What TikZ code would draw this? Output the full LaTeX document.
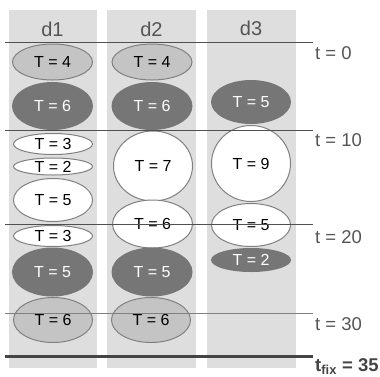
\documentclass[tikz,border=0pt]{standalone}
\usepackage{fontspec}
\setmainfont{Liberation Sans}
\usetikzlibrary{shapes.geometric}
\definecolor{colbg}{HTML}{DEDEDE}
\definecolor{lightel}{HTML}{C4C4C4}
\definecolor{darkel}{HTML}{767676}
\definecolor{elborder}{HTML}{808080}
\definecolor{linedark}{HTML}{505050}
\definecolor{labeltext}{HTML}{555555}
\definecolor{fixline}{HTML}{444444}
\tikzset{
  colrect/.style={fill=colbg, draw=none},
  task/.style={ellipse, inner sep=0pt, font=\fontsize{16}{18}\selectfont},
  lighttask/.style={task, fill=lightel, draw=elborder, line width=1pt, text=black},
  darktask/.style={task, fill=darkel, draw=none, text=white},
  whitetask/.style={task, fill=white, draw=elborder, line width=1pt, text=black},
  header/.style={font=\fontsize{20}{22}\selectfont, text=labeltext, anchor=base, inner sep=0pt},
  timeline/.style={draw=linedark, line width=1pt},
  timelabel/.style={font=\fontsize{18.5}{22}\selectfont, text=labeltext, anchor=base west, inner sep=0pt},
}
\begin{document}
\begin{tikzpicture}[x=1pt, y=-1pt]
\useasboundingbox (0,0) rectangle (380,376);
% columns
\fill[colrect] (9,10) rectangle (97,368);
\fill[colrect] (107,10) rectangle (196,368);
\fill[colrect] (207,10) rectangle (296,368);
% headers
\node[header] (h1) at (52.5,36) {d1};
\node[header] (h2) at (151.5,36) {d2};
\node[header] (h3) at (251,35.5) {d3};
% d1
\node[lighttask, minimum width=80pt, minimum height=36pt] (a1) at (52.5,62) {T = 4};
\node[darktask, minimum width=81pt, minimum height=48pt] (a2) at (52.5,106) {T = 6};
\node[whitetask, minimum width=79pt, minimum height=21pt] (a3) at (53,144) {T = 3};
\node[whitetask, minimum width=79pt, minimum height=17pt] (a4) at (53,166.5) {T = 2};
\node[whitetask, minimum width=79pt, minimum height=43pt] (a5) at (53,200) {T = 5};
\node[whitetask, minimum width=79pt, minimum height=21pt] (a6) at (53,236) {T = 3};
\node[darktask, minimum width=81pt, minimum height=49pt] (a7) at (52.5,272) {T = 5};
\node[lighttask, minimum width=79pt, minimum height=45pt] (a8) at (53,320) {T = 6};
% d2
\node[lighttask, minimum width=80pt, minimum height=36pt] (b1) at (152,62) {T = 4};
\node[darktask, minimum width=81pt, minimum height=48pt] (b2) at (152,106) {T = 6};
\node[whitetask, minimum width=79pt, minimum height=70pt] (b3) at (153,166) {T = 7};
\node[whitetask, minimum width=80pt, minimum height=48pt] (b4) at (152.5,224) {T = 6};
\node[darktask, minimum width=81pt, minimum height=49pt] (b5) at (152,272) {T = 5};
\node[lighttask, minimum width=79pt, minimum height=45pt] (b6) at (151,320) {T = 6};
% d3
\node[darktask, minimum width=80pt, minimum height=44pt] (c1) at (251,102) {T = 5};
\node[whitetask, minimum width=79pt, minimum height=76pt] (c2) at (251,163.5) {T = 9};
\node[whitetask, minimum width=79pt, minimum height=43pt] (c3) at (251,225) {T = 5};
\node[darktask, minimum width=80pt, minimum height=24pt] (c4) at (251,260) {T = 2};
% time lines
\coordinate (l0a) at (5,42.5);  \coordinate (l0b) at (313,42.5);
\coordinate (l1a) at (5,130);   \coordinate (l1b) at (313,130);
\coordinate (l2a) at (5,224.5); \coordinate (l2b) at (313,224.5);
\coordinate (l3a) at (5,313);   \coordinate (l3b) at (313,313);
\coordinate (l4a) at (5,356.5); \coordinate (l4b) at (313,356.5);
\draw[timeline] (l0a) -- (l0b);
\draw[timeline] (l1a) -- (l1b);
\draw[timeline] (l2a) -- (l2b);
\draw[timeline, draw=elborder] (l3a) -- (l3b);
\draw[draw=fixline, line width=3pt] (l4a) -- (l4b);
% labels
\node[timelabel] (t0) at (315,59) {t = 0};
\node[timelabel] (t1) at (315,146.5) {t = 10};
\node[timelabel] (t2) at (315,243) {t = 20};
\node[timelabel] (t3) at (315,330.5) {t = 30};
\node[timelabel, text=fixline, font=\fontsize{18.5}{22}\selectfont\bfseries] (tf) at (315,371) {t\textsubscript{fix} = 35};
\end{tikzpicture}
\end{document}
